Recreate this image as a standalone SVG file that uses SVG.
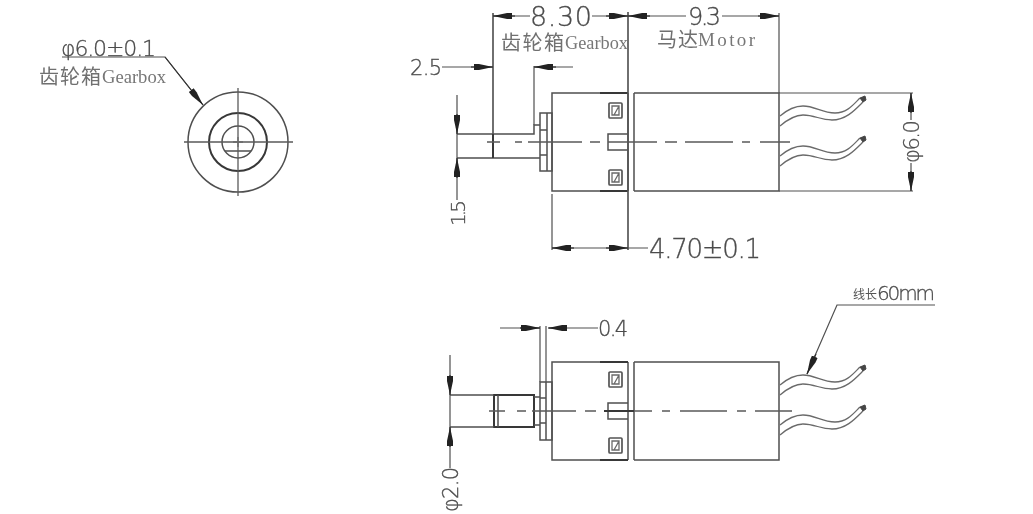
<svg xmlns="http://www.w3.org/2000/svg" width="1033" height="514" viewBox="0 0 1033 514">
<style>
.o{fill:none;stroke:#505050;stroke-width:1.5}
.h{fill:none;stroke:#383838;stroke-width:2}
.s{fill:none;stroke:#555;stroke-width:1.7}
.t{fill:none;stroke:#6a6a6a;stroke-width:1.3}
.c{fill:none;stroke:#5a5a5a;stroke-width:1.3}
.d{fill:none;stroke:#505050;stroke-width:1.2}
.a{fill:none;stroke:#333;stroke-width:1.2;marker-end:url(#arr)}
.n{font-family:"DejaVu Sans","Liberation Sans",sans-serif;font-weight:200;fill:#4c4c4c;stroke:#4c4c4c;stroke-width:.3}
.l{font-family:"Noto Sans CJK SC",sans-serif;fill:#707070;font-size:20px}
.m{font-family:"Liberation Serif",serif;fill:#777;font-size:19px}
</style>
<defs>
<filter id="soft" x="0" y="0" width="100%" height="100%" filterUnits="userSpaceOnUse"><feGaussianBlur stdDeviation="0.35"/></filter>
<marker id="arr" markerUnits="userSpaceOnUse" markerWidth="22" markerHeight="10" refX="19" refY="5" orient="auto"><path d="M0 2L5 2L19 5L5 8L0 8Z" fill="#222"/></marker>
<g id="wire"><path class="t" d="M780 116C787 110 795 106 803 106C815 106 822 113 835 113C847 113 853 105 860 98"/><path class="t" d="M780 126C787 120 795 115 803 115C815 115 820 120 832 120C846 120 855 110 863 102"/><path d="M860 98L865 96L866 100L863 102Z" fill="#444" stroke="#444"/></g>
<g id="square"><rect class="s" x="609" y="0" width="13" height="15" rx="1"/><path class="t" d="M612 3H619V12H612ZM619 3L614 12"/></g>
</defs>
<g filter="url(#soft)">
<g id="end-view">
<circle class="o" cx="238" cy="142" r="50"/>
<circle class="h" cx="238" cy="142" r="29"/>
<circle class="o" cx="238" cy="142" r="16"/>
<path class="o" d="M225 151H251"/>
<path class="c" d="M184 142H293M238 88V196"/>
<path class="t" d="M233 142H243M238 137V147"/>
</g>
<g id="gearbox-motor-top">
<path class="o" d="M628 93H552V191H628M628 93V191M634 93V191M634 93H779V191H634"/>
<path class="h" d="M600 93H628M600 191H628"/>
<rect class="o" x="540" y="113" width="12" height="58"/>
<path class="o" d="M547 113V171M540 130H547M540 155H547"/>
<path class="o" d="M457 134H534V125H540M457 158H540M534 125V134"/>
<path class="h" d="M493 134V158"/>
<path class="o" d="M628 134H608V150H628"/>
<use href="#square" y="103"/><use href="#square" y="170"/>
<path class="c" d="M487 142H500M515 142H522M528 142H582M590 142H600M608 142H657M665 142H677M685 142H733M742 142H750M760 142H790"/>
<use href="#wire"/><use href="#wire" y="40"/>
</g>
<g id="gearbox-motor-bottom">
<path class="o" d="M628 362H552V460H628M628 362V460M634 362V460M634 362H779V460H634"/>
<path class="h" d="M600 362H628M600 460H628"/>
<rect class="o" x="540" y="382" width="12" height="58"/>
<path class="o" d="M546 382V440M540 398H546M540 423H546"/>
<rect class="h" x="494" y="395" width="40" height="32"/>
<path class="o" d="M498 395V427M534 397H540M534 425H540M450 395H494M450 427H494"/>
<path class="o" d="M628 403H608V419H628"/>
<use href="#square" y="372"/><use href="#square" y="438"/>
<path class="c" d="M489 411H505M517 411H526M532 411H576M585 411H596"/>
<path class="h" d="M604 411H634"/>
<path class="c" d="M634 411H652M662 411H670M680 411H727M737 411H746M755 411H792"/>
<use href="#wire" y="269"/><use href="#wire" y="309"/>
</g>
<g id="connectors">
<path class="d" d="M62 57H165L203 105"/>
<path class="a" d="M165 57L203 105"/>
<path class="s" d="M493 13V134"/>
<path class="s" d="M628 12V250"/>
<path class="d" d="M779 13V93M534 66V125M552 194V250M779 93H913M779 191H913"/>
<path class="d" d="M493 16H530M592 16H628M628 16H686M722 16H779"/>
<path class="a" d="M515 16H493"/><path class="a" d="M606 16H628"/>
<path class="a" d="M650 16H628"/><path class="a" d="M758 16H779"/>
<path class="d" d="M442 67H493M534 67H573"/>
<path class="a" d="M471 67H493"/><path class="a" d="M556 67H534"/>
<path class="d" d="M457 95V134M457 158V200M457 134V158"/>
<path class="a" d="M457 114V134"/><path class="a" d="M457 178V158"/>
<path class="d" d="M911 93V120M911 163V191"/>
<path class="a" d="M911 113V93"/><path class="a" d="M911 171V191"/>
<path class="d" d="M552 248H628H648"/>
<path class="a" d="M574 248H552"/><path class="a" d="M606 248H628"/>
<path class="d" d="M540 326V382M546 326V382M500 328H540M549 328H598"/>
<path class="a" d="M520 328H540"/><path class="a" d="M567 328H548"/>
<path class="d" d="M450 355V395M450 427V468M450 395V427"/>
<path class="a" d="M450 375V395"/><path class="a" d="M450 447V427"/>
<path class="d" d="M935 305H837L807 374"/>
<path class="a" d="M816 354L807 374"/>
</g>
<g id="labels">
<text class="n" x="61" y="56" font-size="22" textLength="95">φ6.0±0.1</text>
<text class="l" x="39" y="84" textLength="62">齿轮箱</text>
<text class="m" x="102" y="83" textLength="64" lengthAdjust="spacingAndGlyphs">Gearbox</text>
<text class="n" x="530" y="26" font-size="27" textLength="62">8.30</text>
<text class="l" x="501" y="50" textLength="63">齿轮箱</text>
<text class="m" x="565" y="49" textLength="63" lengthAdjust="spacingAndGlyphs">Gearbox</text>
<text class="n" x="688" y="25" font-size="24" textLength="33">9.3</text>
<text class="l" x="657" y="47" textLength="41">马达</text>
<text class="m" x="698" y="46" textLength="57">Motor</text>
<text class="n" x="410" y="75" font-size="21" textLength="32">2.5</text>
<text class="n" transform="translate(465 226) rotate(-90)" font-size="20" textLength="26">1.5</text>
<text class="n" transform="translate(919 163) rotate(-90)" font-size="21" textLength="43">φ6.0</text>
<text class="n" x="649" y="258" font-size="26" textLength="112">4.70±0.1</text>
<text class="n" x="598" y="336" font-size="21" textLength="30">0.4</text>
<text class="n" transform="translate(458 512) rotate(-90)" font-size="21" textLength="45">φ2.0</text>
<text x="853" y="299" font-family="'Noto Sans CJK SC',sans-serif" font-size="12" fill="#555">线长</text>
<text class="n" x="877" y="300" font-size="20" textLength="58">60mm</text>
</g>
</g>
</svg>
